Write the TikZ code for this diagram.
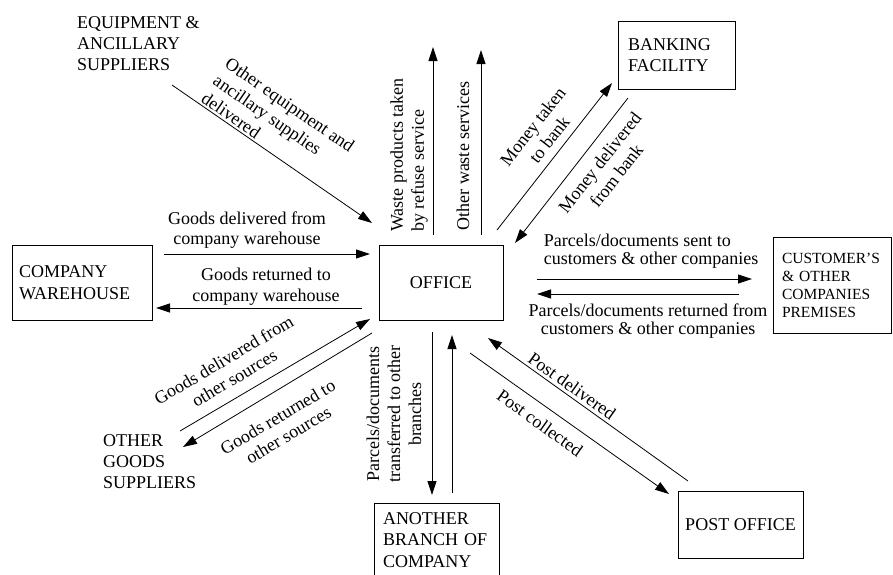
\documentclass[tikz,border=0pt]{standalone}
\usepackage{fontspec}
\setmainfont{Liberation Serif}
\usetikzlibrary{arrows.meta}
\begin{document}
\begin{tikzpicture}[x=1pt,y=-1pt,
  flow/.style={-{Triangle[length=14pt,width=9pt]}, line width=0.8pt},
  box/.style={draw, line width=0.8pt, rectangle, inner ysep=0pt,
    font=\fontsize{18}{21.5}\selectfont},
  party/.style={inner sep=0pt, align=left, font=\fontsize{18}{21}\selectfont},
  lbl/.style={inner sep=0pt, align=center, font=\fontsize{18}{21}\selectfont},
]
\useasboundingbox (0,0) rectangle (893,574);

% ---- parties ----
\node[box, minimum width=124pt, minimum height=75pt] (office) at (441,282.5) {OFFICE};
\node[box, minimum width=140pt, minimum height=75pt, text width=126pt,
  inner xsep=7pt, align=left] (warehouse) at (82,282.5) {COMPANY\\WAREHOUSE};
\node[box, minimum width=117pt, minimum height=68pt, text width=97pt,
  inner xsep=10pt, align=left] (bank) at (676.5,55) {BANKING\\FACILITY};
\node[box, minimum width=118pt, minimum height=96pt, text width=100pt,
  inner xsep=9pt, align=left, font=\fontsize{15.5}{18}\selectfont]
  (customers) at (832,285) {CUSTOMER'S\\\& OTHER\\COMPANIES\\PREMISES};
\node[box, minimum width=125pt, minimum height=74pt, text width=107pt,
  inner xsep=9pt, align=left] (branch) at (436.5,540) {ANOTHER\\BRANCH OF\\COMPANY};
\node[box, minimum width=125pt, minimum height=67pt] (post) at (740.5,524.5) {POST OFFICE};
\node[party, anchor=west] (equip) at (77,44) {EQUIPMENT \&\\ANCILLARY\\SUPPLIERS};
\node[party, anchor=west] (goods) at (103,462) {OTHER\\GOODS\\SUPPLIERS};

% ---- connector ends ----
\coordinate (eqA) at (172,85);     \coordinate (eqB) at (372,223);
\coordinate (gdwA) at (164,254);   \coordinate (gdwB) at (370,254);
\coordinate (grwA) at (362,308);   \coordinate (grwB) at (156,308);
\coordinate (wsA) at (433,235);    \coordinate (wsB) at (433,47);
\coordinate (owA) at (481,235);    \coordinate (owB) at (481,50);
\coordinate (mtA) at (497,230);    \coordinate (mtB) at (612,83);
\coordinate (mdA) at (628,98);     \coordinate (mdB) at (515,243);
\coordinate (psA) at (537,279);    \coordinate (psB) at (752,279);
\coordinate (prA) at (739,294);    \coordinate (prB) at (537,294);
\coordinate (pdA) at (688,481);    \coordinate (pdB) at (488,338);
\coordinate (pcA) at (470,353);    \coordinate (pcB) at (669,494);
\coordinate (bdA) at (432,332);    \coordinate (bdB) at (432,495);
\coordinate (buA) at (452,493);    \coordinate (buB) at (452,335);
\coordinate (gosA) at (180,431);   \coordinate (gosB) at (370,319);
\coordinate (groA) at (372,333);   \coordinate (groB) at (183,447);

% ---- flows ----
\draw[flow] (eqA) -- (eqB);
\draw[flow] (gdwA) -- (gdwB);
\draw[flow] (grwA) -- (grwB);
\draw[flow] (wsA) -- (wsB);
\draw[flow] (owA) -- (owB);
\draw[flow] (mtA) -- (mtB);
\draw[flow] (mdA) -- (mdB);
\draw[flow] (psA) -- (psB);
\draw[flow] (prA) -- (prB);
\draw[flow] (pdA) -- (pdB);
\draw[flow] (pcA) -- (pcB);
\draw[flow] (bdA) -- (bdB);
\draw[flow] (buA) -- (buB);
\draw[flow] (gosA) -- (gosB);
\draw[flow] (groA) -- (groB);

% ---- flow labels ----
\node[lbl, align=left, rotate=-34.6] (Leq) at (278,122)
  {Other equipment and\\ancillary supplies\\delivered};
\node[lbl, font=\fontsize{18}{20}\selectfont] (Lgdw) at (247,230) {Goods delivered from\\company warehouse};
\node[lbl] (Lgrw) at (266,286.5) {Goods returned to\\company warehouse};
\node[lbl, align=left, rotate=90] (Lws) at (409,155) {Waste products taken\\by refuse service};
\node[lbl, rotate=90] (Low) at (463,156) {Other waste services};
\node[lbl, rotate=52] (Lmt) at (541,133) {Money taken\\to bank};
\node[lbl, rotate=52] (Lmd) at (608,169) {Money delivered\\from bank};
\node[lbl, align=left, font=\fontsize{18}{18}\selectfont] (Lps) at (651,251.5)
  {Parcels/documents sent to\\customers \& other companies};
\node[lbl, font=\fontsize{18}{18}\selectfont] (Lpr) at (648,321.5)
  {Parcels/documents returned from\\customers \& other companies};
\node[lbl, rotate=-35.6] (Lpd) at (572,386) {Post delivered};
\node[lbl, rotate=-35.6] (Lpc) at (540,423) {Post collected};
\node[lbl, rotate=90] (Lbr) at (394,414) {Parcels/documents\\transferred to other\\branches};
\node[lbl, rotate=30.5] (Lgos) at (229,369) {Goods delivered from\\other sources};
\node[lbl, rotate=30.5] (Lgro) at (283,426) {Goods returned to\\other sources};
\end{tikzpicture}
\end{document}
